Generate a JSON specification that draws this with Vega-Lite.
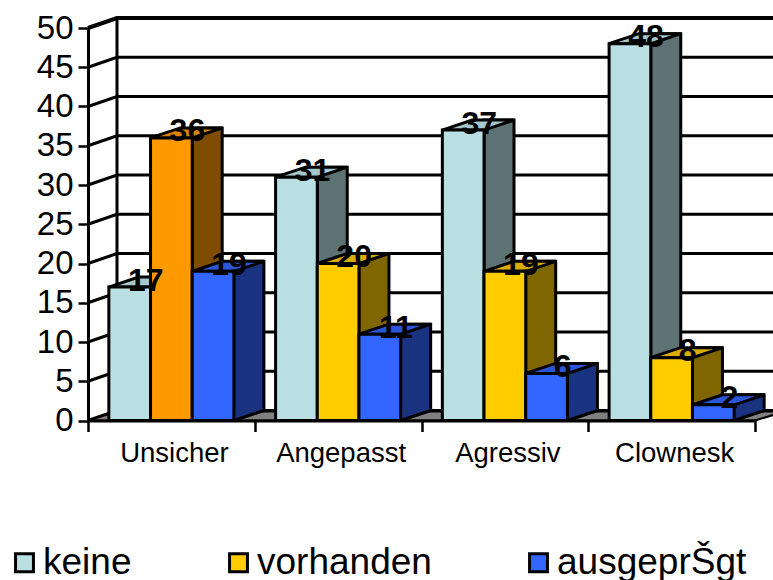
{
"$schema":"https://vega.github.io/schema/vega-lite/v6.json",
"width":667,"height":392.5,
"autosize":{"type":"none"},
"padding":{"left":88,"top":28,"right":18,"bottom":159.5},
"background":"white",
"config":{"view":{"stroke":null},"font":"Liberation Sans","axisY":{"tickCount":10,"labelOverlap":false,"labelBound":false}},
"datasets":{
"bars":[
{"kategorie":"Unsicher","serie":"keine","wert":17},
{"kategorie":"Unsicher","serie":"vorhanden","wert":36},
{"kategorie":"Unsicher","serie":"ausgeprŠgt","wert":19},
{"kategorie":"Angepasst","serie":"keine","wert":31},
{"kategorie":"Angepasst","serie":"vorhanden","wert":20},
{"kategorie":"Angepasst","serie":"ausgeprŠgt","wert":11},
{"kategorie":"Agressiv","serie":"keine","wert":37},
{"kategorie":"Agressiv","serie":"vorhanden","wert":19},
{"kategorie":"Agressiv","serie":"ausgeprŠgt","wert":6},
{"kategorie":"Clownesk","serie":"keine","wert":48},
{"kategorie":"Clownesk","serie":"vorhanden","wert":8},
{"kategorie":"Clownesk","serie":"ausgeprŠgt","wert":2}],
"ticks":[{"tick":0},{"tick":5},{"tick":10},{"tick":15},{"tick":20},{"tick":25},{"tick":30},{"tick":35},{"tick":40},{"tick":45},{"tick":50}]
},
"data":{"name":"bars"},
"encoding":{
"x":{"field":"kategorie","type":"nominal","sort":["Unsicher","Angepasst","Agressiv","Clownesk"],"scale":{"paddingInner":0,"paddingOuter":0},"axis":{"title":null,"labelAngle":0,"labelFontSize":27.5,"labelColor":"black","labelPadding":8,"labelOffset":2.5,"tickBand":"extent","tickSize":11,"tickWidth":2.5,"tickColor":"black","domainColor":"black","domainWidth":3,"zindex":2}},
"xOffset":{"field":"serie","type":"nominal","sort":["keine","vorhanden","ausgeprŠgt"],"scale":{"paddingInner":0,"paddingOuter":0.5}}
},
"layer":[
{"data":{"name":"ticks"},"mark":{"type":"point","shape":"M-333.5,0 L-304.5,-10 L400,-10","size":4,"filled":false,"stroke":"black","opacity":1},
 "encoding":{"x":null,"xOffset":null,"y":{"field":"tick","type":"quantitative","scale":{"domain":[0,50],"nice":false},"axis":{"title":null,"grid":false,"labelFontSize":33,"labelColor":"black","labelPadding":5,"tickSize":10,"tickWidth":2.5,"tickColor":"black","domainColor":"black","domainWidth":3,"zindex":2}},
 "strokeWidth":{"condition":{"test":"datum.tick==50","value":4},"value":3}}},
{"data":{"name":"ticks"},"transform":[{"filter":"datum.tick==0"}],"mark":{"type":"point","shape":"M-333.5,0 L333.5,0 L363.5,-9 L-304.5,-9 Z","size":4,"filled":true,"fill":"#808080","stroke":"black","strokeWidth":2,"opacity":1},
 "encoding":{"x":null,"xOffset":null,"y":{"field":"tick","type":"quantitative"}}},
{"data":{"name":"ticks"},"transform":[{"filter":"datum.tick==0"}],"mark":{"type":"point","shape":"M-304.5,-10 L-304.5,-402.5","size":4,"filled":false,"stroke":"black","strokeWidth":3,"opacity":1},
 "encoding":{"x":null,"xOffset":null,"y":{"field":"tick","type":"quantitative"}}},

{"transform":[{"filter":"datum.serie=='keine'"}],"mark":{"type":"bar","width":30,"yOffset":-10,"fill":"#5C7273","stroke":"black","strokeWidth":3},
 "encoding":{"xOffset":{"value":77.5},"y":{"field":"wert","type":"quantitative"}}},
{"transform":[{"filter":"datum.serie=='keine'"}],"mark":{"type":"point","shape":"M-21,0 L21,0 L51,-10 L9,-10 Z","size":4,"filled":true,"fill":"#A5C8CC","stroke":"black","strokeWidth":3,"opacity":1},
 "encoding":{"y":{"field":"wert","type":"quantitative"}}},
{"transform":[{"filter":"datum.serie=='keine'"}],"mark":{"type":"bar","stroke":"black","strokeWidth":3},
 "encoding":{"y":{"field":"wert","type":"quantitative"},
 "color":{"field":"serie","type":"nominal","scale":{"domain":["keine","vorhanden","ausgeprŠgt"],"range":["#B9DFE3","#FFCC00","#3366FF"]},
 "legend":{"title":null,"orient":"none","legendX":-82,"legendY":516,"direction":"horizontal","columns":3,"labelFontSize":37,"labelColor":"black","symbolType":"square","symbolSize":320,"symbolStrokeColor":"black","symbolStrokeWidth":3,"labelOffset":0,"columnPadding":88,"gridAlign":"each","labelLimit":300}}}},

{"transform":[{"filter":"datum.serie=='vorhanden'"}],"mark":{"type":"bar","width":30,"yOffset":-10,"stroke":"black","strokeWidth":3},
 "encoding":{"xOffset":{"value":119.2},"y":{"field":"wert","type":"quantitative"},"fill":{"condition":{"test":"datum.kategorie=='Unsicher'","value":"#804D00"},"value":"#806600"}}},
{"transform":[{"filter":"datum.serie=='vorhanden'"}],"mark":{"type":"point","shape":"M-21,0 L21,0 L51,-10 L9,-10 Z","size":4,"filled":true,"stroke":"black","strokeWidth":3,"opacity":1},
 "encoding":{"y":{"field":"wert","type":"quantitative"},"fill":{"condition":{"test":"datum.kategorie=='Unsicher'","value":"#D98200"},"value":"#D9AD00"}}},
{"transform":[{"filter":"datum.serie=='vorhanden'"}],"mark":{"type":"bar","stroke":"black","strokeWidth":3},
 "encoding":{"y":{"field":"wert","type":"quantitative"},
 "color":{"condition":{"test":"datum.kategorie=='Unsicher'","value":"#FF9900"},"field":"serie","type":"nominal","scale":{"domain":["keine","vorhanden","ausgeprŠgt"],"range":["#B9DFE3","#FFCC00","#3366FF"]}}}},

{"transform":[{"filter":"datum.serie=='ausgeprŠgt'"}],"mark":{"type":"bar","width":30,"yOffset":-10,"fill":"#1A3380","stroke":"black","strokeWidth":3},
 "encoding":{"xOffset":{"value":160.9},"y":{"field":"wert","type":"quantitative"}}},
{"transform":[{"filter":"datum.serie=='ausgeprŠgt'"}],"mark":{"type":"point","shape":"M21,0 L51,-10 L49.5,-13 L21,-13 Z","size":4,"filled":true,"fill":"#1A3380","strokeWidth":0,"opacity":1},
 "encoding":{"y":{"datum":0}}},
{"transform":[{"filter":"datum.serie=='ausgeprŠgt'"}],"mark":{"type":"point","shape":"M21,0 L51,-10","size":4,"filled":false,"stroke":"black","strokeWidth":3,"opacity":1},
 "encoding":{"y":{"datum":0}}},
{"transform":[{"filter":"datum.serie=='ausgeprŠgt'"}],"mark":{"type":"point","shape":"M-21,0 L21,0 L51,-10 L9,-10 Z","size":4,"filled":true,"fill":"#2B56D9","stroke":"black","strokeWidth":3,"opacity":1},
 "encoding":{"y":{"field":"wert","type":"quantitative"}}},
{"transform":[{"filter":"datum.serie=='ausgeprŠgt'"}],"mark":{"type":"bar","stroke":"black","strokeWidth":3},
 "encoding":{"y":{"field":"wert","type":"quantitative"},
 "color":{"field":"serie","type":"nominal","scale":{"domain":["keine","vorhanden","ausgeprŠgt"],"range":["#B9DFE3","#FFCC00","#3366FF"]}}}},

{"mark":{"type":"text","fontSize":32,"fontWeight":"bold","color":"black","baseline":"middle","align":"center","dx":16,"dy":-6.5},
 "encoding":{"y":{"field":"wert","type":"quantitative"},"text":{"field":"wert","type":"quantitative"}}}
]
}
